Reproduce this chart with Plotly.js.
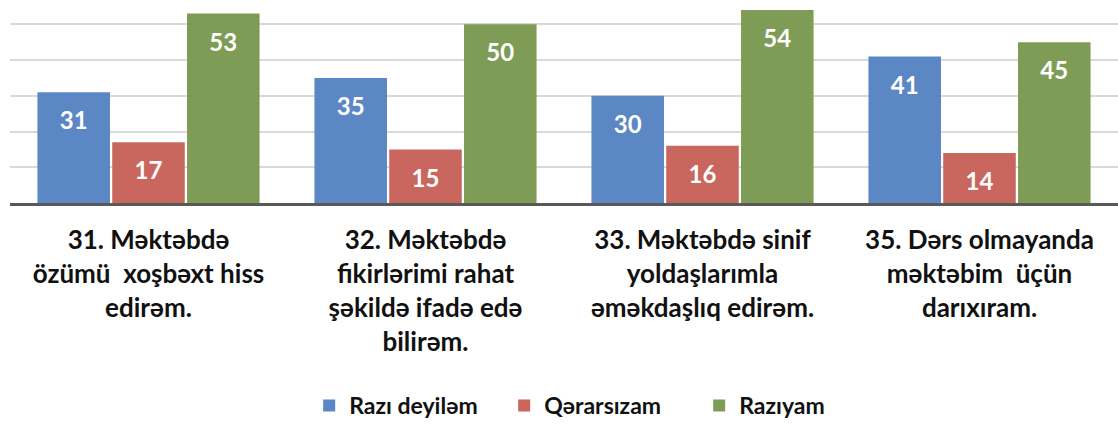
<!DOCTYPE html>
<html>
<head>
<meta charset="utf-8">
<script src="https://cdn.plot.ly/plotly-3.0.1.min.js"></script>
<style>html,body{margin:0;padding:0;background:#fff;}#chart{width:1118px;height:427px;}</style>
</head>
<body>
<div id="chart"></div>
<script>
const categories = [
  "31. Məktəbdə<br>özümü  xoşbəxt hiss<br>edirəm.",
  "32. Məktəbdə<br>fikirlərimi rahat<br>şəkildə ifadə edə<br>bilirəm.",
  "33. Məktəbdə sinif<br>yoldaşlarımla<br>əməkdaşlıq edirəm.",
  "35. Dərs olmayanda<br>məktəbim  üçün<br>darıxıram."
];
const seriesNames = ["Razı deyiləm", "Qərarsızam", "Razıyam"];
const raziDeyilem = [31, 35, 30, 41];
const qerarsizam = [17, 15, 16, 14];
const raziyam = [53, 50, 54, 45];
const colors = ["#5b87c4", "#c9675f", "#7e9c56"];

const values = [raziDeyilem, qerarsizam, raziyam];
const traces = values.map((v, i) => ({
  type: "bar",
  name: seriesNames[i],
  x: categories,
  y: v,
  marker: {color: colors[i]},
  text: v.map(String),
  texttemplate: "<span style='font-size:3px'>\u00a0</span><br>%{text}",
  textposition: "inside",
  insidetextanchor: "end",
  textangle: 0,
  textfont: {family: "Lato, 'Open Sans', sans-serif", size: 24, color: "#ffffff", weight: "bold"},
  cliponaxis: false,
  hoverinfo: "skip"
}));

const layout = {
  width: 1118,
  height: 427,
  margin: {l: 10, r: 0, t: 0, b: 221},
  paper_bgcolor: "#ffffff",
  plot_bgcolor: "#ffffff",
  barmode: "group",
  bargap: 0.19,
  bargroupgap: 0.03,
  font: {family: "Lato, 'Open Sans', sans-serif"},
  xaxis: {
    type: "category",
    showgrid: false,
    showline: true,
    linecolor: "#595959",
    linewidth: 3,
    ticks: "",
    ticklabelstandoff: 12,
    tickfont: {family: "Lato, 'Open Sans', sans-serif", size: 26, color: "#111111", weight: "bold"},
    tickangle: 0,
    fixedrange: true
  },
  yaxis: {
    range: [0, 56.8],
    dtick: 10,
    showticklabels: false,
    showgrid: true,
    gridcolor: "#d9d9d9",
    gridwidth: 2,
    zeroline: false,
    showline: false,
    ticks: "",
    fixedrange: true
  },
  showlegend: true,
  legend: {
    orientation: "h",
    x: 0.534,
    xanchor: "center",
    y: -1.0,
    yanchor: "middle",
    font: {family: "Lato, 'Open Sans', sans-serif", size: 23, color: "#111111", weight: "bold"},
    itemwidth: 30,
    entrywidth: 150,
    entrywidthmode: "pixels",
    tracegroupgap: 0,
    traceorder: "normal"
  }
};

Plotly.newPlot("chart", traces, layout, {displayModeBar: false, staticPlot: true});
</script>
</body>
</html>
